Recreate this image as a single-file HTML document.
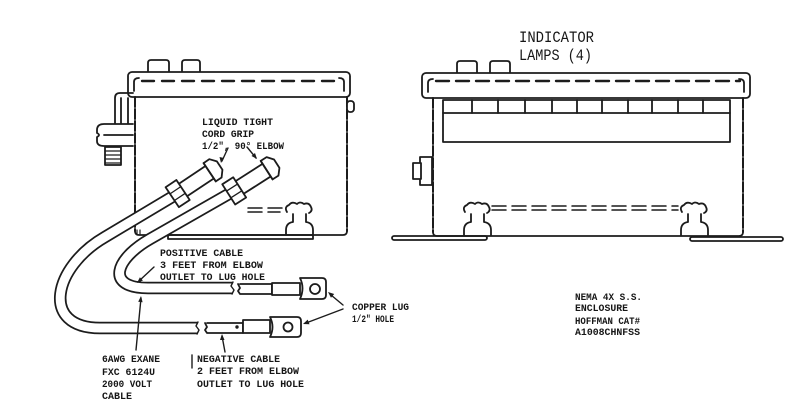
<!DOCTYPE html>
<html><head><meta charset="utf-8"><style>
html,body{margin:0;padding:0;background:#fff;}
svg{display:block;}
text{font-family:"Liberation Mono","DejaVu Sans Mono",monospace;fill:#161616;}
.s{font-size:10px;font-weight:bold;}
.b{font-size:16px;}
</style></head><body>
<svg width="800" height="412" viewBox="0 0 800 412" xmlns="http://www.w3.org/2000/svg">
<rect width="800" height="412" fill="#fff"/>
<g fill="none" stroke="#1c1c1c" stroke-width="1.8" stroke-linejoin="round" stroke-linecap="round">

<!-- ============ LEFT BOX ============ -->
<path d="M148,72 L148,63 Q148,60 151,60 L166,60 Q169,60 169,63 L169,72" fill="#fff"/>
<path d="M182,72 L182,63 Q182,60 185,60 L197,60 Q200,60 200,63 L200,72" fill="#fff"/>
<rect x="128" y="72" width="222" height="25" rx="4" fill="#fff"/>
<line x1="142" y1="81" x2="340" y2="81" stroke-width="2.4" stroke-dasharray="12 8"/>
<path d="M134,91 L134,82 Q134,78 139,78"/>
<path d="M339,78 Q344,78 344,82 L344,91"/>
<!-- body -->
<line x1="135" y1="97" x2="135" y2="231" stroke-width="2" stroke-dasharray="10 2"/>
<line x1="347" y1="97" x2="347" y2="231" stroke-width="2" stroke-dasharray="10 2"/>
<path d="M135,231 Q135,235 139,235 L343,235 Q347,235 347,231"/>
<rect x="168" y="235" width="145" height="4"/>
<!-- right knob -->
<rect x="347" y="101" width="7" height="11" rx="3" fill="#fff"/>
<!-- clamp -->
<path d="M133,93 L120,93 Q115,93 115,98 L115,124"/>
<line x1="121" y1="98" x2="121" y2="124"/>
<line x1="128" y1="98" x2="128" y2="124"/>
<path d="M133,124 L104,124 Q97,124 97,130 L97,133 Q101,135 97,137 L97,141 Q97,146 104,146 L133,146" fill="#fff"/>
<line x1="104" y1="135" x2="133" y2="135"/>
<rect x="105" y="147" width="16" height="18" fill="#fff"/>
<path d="M105,151 H121 M105,155 H121 M105,159 H121 M105,163 H121" stroke-width="1.2"/>
<!-- mount bracket left -->
<path d="M287,212 Q284,207 289,205 Q292,201 297,204 Q300,201 304,204 Q309,202 311,207 Q313,211 309,213"/>
<path d="M293,214 L293,222 Q286,223 286,230 L286,234"/>
<path d="M306,214 L306,222 Q313,223 313,230 L313,234"/>
<path d="M248,208 H262 M248,212 H262 M268,208 H282 M268,212 H280" stroke-width="1.5"/>

<!-- ============ RIGHT BOX ============ -->
<path d="M457,73 L457,64 Q457,61 460,61 L474,61 Q477,61 477,64 L477,73" fill="#fff"/>
<path d="M490,73 L490,64 Q490,61 493,61 L507,61 Q510,61 510,64 L510,73" fill="#fff"/>
<rect x="422" y="73" width="328" height="25" rx="4" fill="#fff"/>
<line x1="436" y1="81" x2="740" y2="81" stroke-width="2.4" stroke-dasharray="13 7"/>
<path d="M428,92 L428,83 Q428,79 433,79"/>
<path d="M739,79 Q744,79 744,83 L744,92"/>
<line x1="433" y1="98" x2="433" y2="232" stroke-width="2" stroke-dasharray="10 2"/>
<line x1="743" y1="98" x2="743" y2="232" stroke-width="2" stroke-dasharray="10 2"/>
<path d="M433,232 Q433,236 437,236 L739,236 Q743,236 743,232"/>
<!-- lamp strip -->
<rect x="443" y="100" width="287" height="13"/>
<path d="M472,100 V113 M498,100 V113 M525,100 V113 M552,100 V113 M577,100 V113 M602,100 V113 M628,100 V113 M652,100 V113 M678,100 V113 M703,100 V113"/>
<path d="M443,113 L443,142 L730,142 L730,113"/>
<!-- side fitting -->
<rect x="420" y="157" width="12" height="28" fill="#fff"/>
<rect x="413" y="163" width="8" height="16" fill="#fff"/>
<!-- flanges -->
<rect x="392" y="236" width="95" height="4" rx="2"/>
<rect x="690" y="237" width="93" height="4" rx="2"/>
<!-- brackets -->
<path d="M465,212 Q462,207 467,205 Q470,201 475,204 Q478,201 482,204 Q487,202 489,207 Q491,211 487,213"/>
<path d="M471,214 L471,222 Q464,223 464,230 L464,235"/>
<path d="M484,214 L484,222 Q491,223 491,230 L491,235"/>
<path d="M682,212 Q679,207 684,205 Q687,201 692,204 Q695,201 699,204 Q704,202 706,207 Q708,211 704,213"/>
<path d="M688,214 L688,222 Q681,223 681,230 L681,235"/>
<path d="M701,214 L701,222 Q708,223 708,230 L708,235"/>
<line x1="492" y1="206" x2="678" y2="206" stroke-width="1.5" stroke-dasharray="14 6"/>
<line x1="492" y1="210" x2="678" y2="210" stroke-width="1.5" stroke-dasharray="14 6"/>

<!-- ============ CABLES ============ -->
<path d="M177,194 L105,237 C53,267 40,328 100,328 L198,328" stroke-width="12.5" stroke-linecap="butt"/>
<path d="M177,194 L105,237 C53,267 40,328 100,328 L198,328" stroke="#fff" stroke-width="9" stroke-linecap="butt"/>
<path d="M234,191 L150,239 C115,259 105,288 148,288 L233,288" stroke-width="12.5" stroke-linecap="butt"/>
<path d="M234,191 L150,239 C115,259 105,288 148,288 L233,288" stroke="#fff" stroke-width="9" stroke-linecap="butt"/>
<path d="M198,322 L196,326 L199,330 L197,334" stroke-width="1.4"/>
<path d="M233,282 L231,286 L234,290 L232,294" stroke-width="1.4"/>

<!-- negative end -->
<path d="M207,323 L243,323 L243,333 L207,333 L205,330 L207,327 L205,323" fill="#fff"/>
<rect x="243" y="320" width="27" height="13" fill="#fff"/>
<path d="M270,317 Q275,327 270,337 L297,337 Q301,337 301,333 L301,321 Q301,317 297,317 Z" fill="#fff"/>
<circle cx="288" cy="327" r="4.5"/>
<circle cx="237" cy="327" r="0.8" fill="#1c1c1c"/>
<!-- positive end -->
<path d="M240,284 L272,284 L272,294 L240,294 L238,291 L240,288 L238,284" fill="#fff"/>
<rect x="272" y="283" width="28" height="12" fill="#fff"/>
<path d="M300,278 Q305,288 300,299 L322,299 Q326,299 326,295 L326,282 Q326,278 322,278 Z" fill="#fff"/>
<circle cx="315" cy="289" r="5"/>

<!-- fittings -->
<g transform="translate(213,170) rotate(146.3)">
<rect x="0" y="-7.5" width="40" height="15" fill="#fff"/>
<path d="M4,-11 L-3,-11 L-8,-5 L-8,5 L-3,11 L4,11 Z" fill="#fff"/>
<line x1="4" y1="-11" x2="4" y2="11"/>
<rect x="36" y="-12" width="13" height="24" fill="#fff"/>
<path d="M36,-4 H49 M36,4 H49" stroke-width="1.3"/>
</g>
<g transform="translate(270,168) rotate(147.4)">
<rect x="0" y="-7.5" width="40" height="15" fill="#fff"/>
<path d="M4,-11 L-3,-11 L-8,-5 L-8,5 L-3,11 L4,11 Z" fill="#fff"/>
<line x1="4" y1="-11" x2="4" y2="11"/>
<rect x="36" y="-12" width="13" height="24" fill="#fff"/>
<path d="M36,-4 H49 M36,4 H49" stroke-width="1.3"/>
</g>
<path d="M137,230 L137,234 M140,230 L140,234" stroke-width="1.2"/>

<!-- leaders -->
<line x1="228" y1="148" x2="222" y2="161" stroke-width="1.4"/>
<line x1="247" y1="147" x2="256" y2="158" stroke-width="1.4"/>
<line x1="154" y1="267" x2="139" y2="281" stroke-width="1.4"/>
<line x1="136" y1="350" x2="141" y2="298" stroke-width="1.4"/>
<line x1="225" y1="352" x2="222" y2="336" stroke-width="1.4"/>
<line x1="343" y1="305" x2="331" y2="295" stroke-width="1.4"/>
<line x1="343" y1="309" x2="306" y2="323" stroke-width="1.4"/>
<line x1="192" y1="355" x2="192" y2="368" stroke-width="1.4"/>
</g>

<!-- arrowheads -->
<g fill="#1c1c1c" stroke="none">
<polygon points="328,292 334.2,294 331,297.8"/>
<polygon points="303,324 309.5,324.2 307.7,319.6"/>
<polygon points="137,283 142.9,280.5 139.9,277.3"/>
<polygon points="141,296 142.6,302.2 138.2,301.8"/>
<polygon points="222,334 224.5,340 220,340"/>
<polygon points="221,163 219.5,157 224,158"/>
<polygon points="257,159 251.5,156 255,153"/>
</g>

<!-- ============ TEXT ============ -->
<text class="b" x="519" y="42" textLength="75" lengthAdjust="spacingAndGlyphs">INDICATOR</text>
<text class="b" x="519" y="60" textLength="73" lengthAdjust="spacingAndGlyphs">LAMPS (4)</text>

<text class="s" x="202" y="125" textLength="71" lengthAdjust="spacingAndGlyphs">LIQUID TIGHT</text>
<text class="s" x="202" y="137" textLength="52" lengthAdjust="spacingAndGlyphs">CORD GRIP</text>
<text class="s" x="202" y="149" textLength="82" lengthAdjust="spacingAndGlyphs">1/2", 90° ELBOW</text>

<text class="s" x="160" y="256" textLength="83" lengthAdjust="spacingAndGlyphs">POSITIVE CABLE</text>
<text class="s" x="160" y="268" textLength="103" lengthAdjust="spacingAndGlyphs">3 FEET FROM ELBOW</text>
<text class="s" x="160" y="280" textLength="105" lengthAdjust="spacingAndGlyphs">OUTLET TO LUG HOLE</text>

<text class="s" x="352" y="310" textLength="57" lengthAdjust="spacingAndGlyphs">COPPER LUG</text>
<text class="s" x="352" y="322" textLength="42" lengthAdjust="spacingAndGlyphs">1/2" HOLE</text>

<text class="s" x="102" y="362" textLength="58" lengthAdjust="spacingAndGlyphs">6AWG EXANE</text>
<text class="s" x="102" y="375" textLength="53" lengthAdjust="spacingAndGlyphs">FXC 6124U</text>
<text class="s" x="102" y="387" textLength="50" lengthAdjust="spacingAndGlyphs">2000 VOLT</text>
<text class="s" x="102" y="399" textLength="30" lengthAdjust="spacingAndGlyphs">CABLE</text>

<text class="s" x="197" y="362" textLength="83" lengthAdjust="spacingAndGlyphs">NEGATIVE CABLE</text>
<text class="s" x="197" y="374" textLength="102" lengthAdjust="spacingAndGlyphs">2 FEET FROM ELBOW</text>
<text class="s" x="197" y="387" textLength="107" lengthAdjust="spacingAndGlyphs">OUTLET TO LUG HOLE</text>

<text class="s" x="575" y="300" textLength="67" lengthAdjust="spacingAndGlyphs">NEMA 4X S.S.</text>
<text class="s" x="575" y="311" textLength="53" lengthAdjust="spacingAndGlyphs">ENCLOSURE</text>
<text class="s" x="575" y="324" textLength="65" lengthAdjust="spacingAndGlyphs">HOFFMAN CAT#</text>
<text class="s" x="575" y="335" textLength="65" lengthAdjust="spacingAndGlyphs">A1008CHNFSS</text>
</svg>
</body></html>
